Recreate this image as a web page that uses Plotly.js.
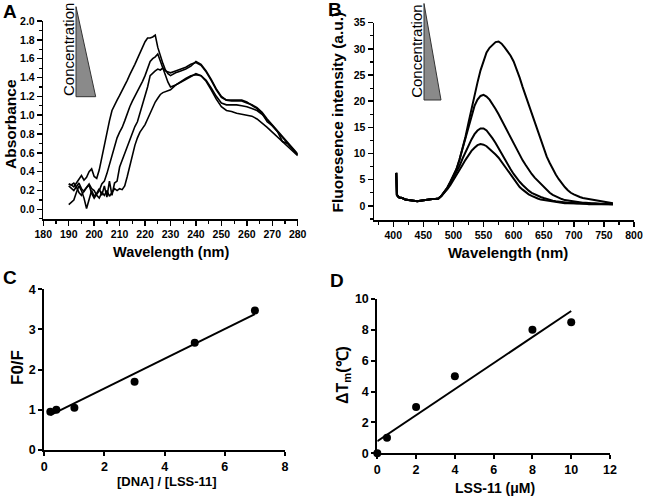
<!DOCTYPE html>
<html>
<head>
<meta charset="utf-8">
<script src="https://cdn.plot.ly/plotly-3.0.1.min.js"></script>
<style>html,body{margin:0;padding:0;background:#fff;}#chart{width:650px;height:496px;}</style>
</head>
<body>
<div id="chart"></div>
<script>
// ---------- Panel A: absorbance spectra ----------
const wavelengthA = [190,191,192,193,194,195,196,197,198,199,200,201,202,203,204,205,206,207,208,209,210,211,212,213,214,215,216,217,218,219,220,221,222,223,224,225,226,227,228,229,230,232,234,236,238,240,242,244,246,248,250,252,254,256,258,260,262,264,266,268,270,272,274,276,278,280];
const absorb1 = [0.27,0.26,0.24,0.28,0.33,0.36,0.31,0.34,0.40,0.43, 0.35,0.33,0.42,0.56,0.70,0.82,0.94,1.05,1.11,1.16, 1.21,1.26,1.32,1.37,1.43,1.48,1.54,1.60,1.66,1.72, 1.78,1.82,1.82,1.83,1.85,1.72,1.62,1.55,1.48,1.44, 1.42, 1.45,1.47,1.49,1.52,1.57, 1.54,1.47,1.38,1.28,1.20, 1.16,1.16,1.16,1.16,1.14,1.10,1.07,1.02,0.93,0.89,0.83,0.72,0.70,0.64,0.58];
const absorb2 = [0.25,0.22,0.20,0.24,0.28,0.22,0.19,0.23,0.26,0.17, 0.12,0.16,0.20,0.27,0.30,0.38,0.48,0.58,0.68,0.76, 0.82,0.87,0.94,1.02,1.09,1.15,1.20,1.25,1.30,1.36, 1.42,1.50,1.57,1.60,1.62,1.65,1.57,1.50,1.47,1.46, 1.45, 1.47,1.49,1.51,1.54,1.56, 1.53,1.46,1.37,1.27,1.19, 1.16,1.15,1.15,1.15,1.13,1.11,1.08,1.03,0.96,0.90,0.84,0.77,0.71,0.65,0.59];
const absorb3 = [0.05,0.08,0.10,0.18,0.25,0.20,0.12,0.01,0.10,0.20, 0.14,0.17,0.22,0.15,0.25,0.13,0.30,0.15,0.28,0.30, 0.45,0.52,0.60,0.68,0.74,0.82,0.88,0.93,1.02,1.12, 1.20,1.30,1.42,1.45,1.47,1.49,1.48,1.50,1.42,1.35, 1.30, 1.32,1.35,1.38,1.41,1.44, 1.42,1.36,1.27,1.17,1.09, 1.05,1.04,1.02,1.01,1.00,0.99,0.96,0.92,0.87,0.82,0.77,0.72,0.67,0.62,0.57];
const absorb4 = [0.27,0.26,0.28,0.24,0.18,0.15,0.20,0.24,0.27,0.22, 0.20,0.15,0.12,0.18,0.15,0.20,0.14,0.18,0.22,0.20, 0.22,0.21,0.25,0.35,0.47,0.58,0.68,0.76,0.82,0.86, 0.90,0.96,1.02,1.08,1.14,1.18,1.22,1.24,1.25,1.26, 1.27, 1.32,1.36,1.39,1.42,1.43, 1.42,1.37,1.29,1.20,1.13, 1.11,1.11,1.11,1.10,1.09,1.07,1.05,1.01,0.95,0.89,0.83,0.77,0.70,0.64,0.58];

// ---------- Panel B: fluorescence spectra ----------
const wavelengthB = [405,406,408,410,415,420,425,430,435,440,445,450,455,460,465,470,475,480,485,490,495,500,505,510,515,520,525,530,535,540,545,550,555,560,565,570,575,580,585,590,595,600,605,610,615,620,625,630,635,640,645,650,655,660,665,670,675,680,685,690,695,700,705,710,715,720,725,730,735,740,745,750,755,760,765];
const fluor1 = [6.3,2.1,1.8,1.6,1.5,1.2,1.1,1.0,1.0,0.9,1.0,1.1,1.2,1.3,1.3, 1.3,1.4,1.9,2.6,3.5,4.6,5.8,7.0,8.8,10.9, 13.2,15.9,18.6,21.2,23.6,25.9,27.8,29.3,30.2,30.8, 31.3,31.4,31.0,30.3,29.5,28.7,27.6,26.2,24.5,22.7, 21.0,19.3,17.6,15.8,14.1,12.4,10.9,9.4,8.2,7.0, 6.0,5.1,4.3,3.6,3.0,2.5,2.2,1.9,1.7,1.5, 1.4,1.2,1.1,1.0,0.9,0.8,0.7,0.7,0.6,0.5];
const fluor2 = [6.3,2.1,1.8,1.6,1.5,1.2,1.1,1.0,1.0,0.9,1.0,1.1,1.2,1.3,1.3, 1.3,1.4,1.9,2.6,3.5,4.6,5.8,7.0,8.8,10.9, 13.2,15.4,17.5,19.1,20.3,21.0,21.2,20.9,20.3,19.5, 18.5,17.5,16.4,15.2,14.0,12.9,11.8,10.7,9.7,8.7, 7.8,6.9,6.1,5.4,4.8,4.2,3.6,3.0,2.5,2.1, 1.8,1.5,1.3,1.1,1.0,0.9,0.8,0.7,0.7,0.6, 0.6,0.5,0.5,0.5,0.4,0.4,0.4,0.4,0.4,0.3];
const fluor3 = [6.3,2.1,1.8,1.6,1.5,1.2,1.1,1.0,1.0,0.9,1.0,1.1,1.2,1.3,1.3, 1.3,1.4,1.9,2.6,3.4,4.4,5.4,6.4,7.6,9.0, 10.3,11.6,12.7,13.7,14.4,14.8,14.8,14.4,13.7,12.9, 12.0,11.1,10.0,9.0,7.9,7.0,6.1,5.3,4.6,4.0, 3.4,2.9,2.5,2.2,1.9,1.7,1.5,1.3,1.1,1.0, 0.9,0.8,0.7,0.7,0.6,0.6,0.5,0.5,0.5,0.4, 0.4,0.4,0.4,0.3,0.3,0.3,0.3,0.3,0.3,0.3];
const fluor4 = [6.3,2.1,1.8,1.6,1.5,1.2,1.1,1.0,1.0,0.9,1.0,1.1,1.2,1.3,1.3, 1.3,1.4,1.9,2.5,3.2,4.0,4.9,5.8,6.8,7.8, 8.8,9.7,10.5,11.1,11.6,11.8,11.7,11.4,10.9,10.4, 9.8,9.2,8.4,7.5,6.6,5.8,5.0,4.3,3.6,3.1, 2.6,2.2,1.9,1.6,1.4,1.2,1.1,1.0,0.9,0.8, 0.7,0.6,0.6,0.5,0.5,0.5,0.4,0.4,0.4,0.4, 0.4,0.3,0.3,0.3,0.3,0.3,0.3,0.3,0.3,0.3];

// ---------- Panel C: F0/F vs [DNA]/[LSS-11] ----------
const ratioC = [0.2, 0.4, 1, 3, 5, 7];
const f0fC = [0.95, 1.0, 1.05, 1.7, 2.67, 3.47];
const fitXC = [0.2, 7];
const fitYC = [0.87, 3.38];

// ---------- Panel D: dTm vs LSS-11 ----------
const concD = [0, 0.5, 2, 4, 8, 10];
const dTmD = [0, 1.0, 3.0, 5.0, 8.0, 8.5];
const fitXD = [0, 10];
const fitYD = [0.78, 9.22];

// ---------- tick values / labels ----------
const ticksAx = [180,190,200,210,220,230,240,250,260,270,280];
const labelsAx = ['180','190','200','210','220','230','240','250','260','270','280'];
const ticksAy = [0,0.2,0.4,0.6,0.8,1.0,1.2,1.4,1.6,1.8,2.0];
const labelsAy = ['0.0','0.2','0.4','0.6','0.8','1.0','1.2','1.4','1.6','1.8','2.0'];
const ticksBx = [400,450,500,550,600,650,700,750,800];
const labelsBx = ['400','450','500','550','600','650','700','750','800'];
const ticksBy = [0,5,10,15,20,25,30,35];
const labelsBy = ['0','5','10','15','20','25','30','35'];
const ticksCx = [0,2,4,6,8];
const labelsCx = ['0','2','4','6','8'];
const ticksCy = [0,1,2,3,4];
const labelsCy = ['0','1','2','3','4'];
const ticksDx = [0,2,4,6,8,10,12];
const labelsDx = ['0','2','4','6','8','10','12'];
const ticksDy = [0,2,4,6,8,10];
const labelsDy = ['0','2','4','6','8','10'];

// ---------- helpers ----------
const W = 650, H = 496;
const px = v => v / W;
const py = v => 1 - v / H;
const FONT = 'Liberation Sans, Arial, sans-serif';
const lineA = {color: '#000', width: 1.6};
const lineB = {color: '#000', width: 2};
const bold = arr => arr.map(s => '<b>' + s + '</b>');

const traces = [
  {x: wavelengthA, y: absorb1, xaxis: 'x', yaxis: 'y', mode: 'lines', line: lineA},
  {x: wavelengthA, y: absorb2, xaxis: 'x', yaxis: 'y', mode: 'lines', line: lineA},
  {x: wavelengthA, y: absorb3, xaxis: 'x', yaxis: 'y', mode: 'lines', line: lineA},
  {x: wavelengthA, y: absorb4, xaxis: 'x', yaxis: 'y', mode: 'lines', line: lineA},
  {x: wavelengthB, y: fluor1, xaxis: 'x2', yaxis: 'y2', mode: 'lines', line: lineB},
  {x: wavelengthB, y: fluor2, xaxis: 'x2', yaxis: 'y2', mode: 'lines', line: lineB},
  {x: wavelengthB, y: fluor3, xaxis: 'x2', yaxis: 'y2', mode: 'lines', line: lineB},
  {x: wavelengthB, y: fluor4, xaxis: 'x2', yaxis: 'y2', mode: 'lines', line: lineB},
  {x: fitXC, y: fitYC, xaxis: 'x3', yaxis: 'y3', mode: 'lines', line: {color: '#000', width: 2}},
  {x: ratioC, y: f0fC, xaxis: 'x3', yaxis: 'y3', mode: 'markers', marker: {color: '#000', size: 8}, cliponaxis: false},
  {x: fitXD, y: fitYD, xaxis: 'x4', yaxis: 'y4', mode: 'lines', line: {color: '#000', width: 2}},
  {x: concD, y: dTmD, xaxis: 'x4', yaxis: 'y4', mode: 'markers', marker: {color: '#000', size: 8}, cliponaxis: false}
];

function ax(opts) {
  return Object.assign({
    showgrid: false, zeroline: false, showline: true, linecolor: '#000',
    ticks: 'outside', tickcolor: '#000', fixedrange: true, tickmode: 'array'
  }, opts);
}
const tickAB = {family: FONT, size: 10.5, color: '#000', weight: 'bold'};
const tickCD = {family: FONT, size: 12.5, color: '#000', weight: 'bold'};
const minorA = (d) => ({dtick: d, ticks: 'outside', ticklen: 3, tickwidth: 1.2, tickcolor: '#000'});

const layout = {
  width: W, height: H, autosize: false,
  margin: {l: 0, r: 0, t: 0, b: 0},
  paper_bgcolor: '#fff', plot_bgcolor: '#fff',
  showlegend: false,
  xaxis: ax({domain: [px(43.3), px(297.7)], range: [180, 280], tickvals: ticksAx, ticktext: bold(labelsAx), linewidth: 1.5, tickwidth: 1.5, ticklen: 5, tickfont: tickAB, anchor: 'y',
    minor: Object.assign(minorA(5), {tick0: 180})}),
  yaxis: ax({domain: [py(219.3), py(21)], range: [-0.105, 2.0], tickvals: ticksAy, ticktext: bold(labelsAy), linewidth: 1.5, tickwidth: 1.5, ticklen: 5, tickfont: tickAB, anchor: 'x',
    minor: Object.assign(minorA(0.1), {tick0: 0})}),
  xaxis2: ax({domain: [px(374), px(634)], range: [368, 800], tickvals: ticksBx, ticktext: bold(labelsBx), linewidth: 1.5, tickwidth: 1.5, ticklen: 5, tickfont: tickAB, anchor: 'y2',
    minor: Object.assign(minorA(25), {tick0: 400})}),
  yaxis2: ax({domain: [py(220), py(22.7)], range: [-2.7, 35], tickvals: ticksBy, ticktext: bold(labelsBy), linewidth: 1.5, tickwidth: 1.5, ticklen: 5, tickfont: tickAB, anchor: 'x2',
    minor: Object.assign(minorA(2.5), {tick0: 0})}),
  xaxis3: ax({domain: [px(44.3), px(285)], range: [0, 8], tickvals: ticksCx, ticktext: bold(labelsCx), linewidth: 2, tickwidth: 2, ticklen: 4, tickfont: tickCD, anchor: 'y3'}),
  yaxis3: ax({domain: [py(450), py(289.3)], range: [0, 4], tickvals: ticksCy, ticktext: bold(labelsCy), linewidth: 2, tickwidth: 2, ticklen: 4, tickfont: tickCD, anchor: 'x3'}),
  xaxis4: ax({domain: [px(377.3), px(610)], range: [0, 12], tickvals: ticksDx, ticktext: bold(labelsDx), linewidth: 2, tickwidth: 2, ticklen: 4, tickfont: tickCD, anchor: 'y4'}),
  yaxis4: ax({domain: [py(453.3), py(299)], range: [0, 10], tickvals: ticksDy, ticktext: bold(labelsDy), linewidth: 2, tickwidth: 2, ticklen: 4, tickfont: tickCD, anchor: 'x4'}),
  shapes: [
    {type: 'path', xref: 'paper', yref: 'paper',
     path: `M ${px(76)} ${py(6.7)} L ${px(76)} ${py(96.7)} L ${px(95.7)} ${py(96.7)} Z`,
     fillcolor: '#8a8a8a', line: {color: '#333', width: 1}},
    {type: 'path', xref: 'paper', yref: 'paper',
     path: `M ${px(424)} ${py(3.5)} L ${px(424)} ${py(100)} L ${px(441)} ${py(100)} Z`,
     fillcolor: '#8a8a8a', line: {color: '#333', width: 1}}
  ],
  annotations: []
};

function note(text, x, y, size, isBold, angle) {
  layout.annotations.push({
    text: text, xref: 'paper', yref: 'paper', x: px(x), y: py(y),
    xanchor: 'center', yanchor: 'middle', showarrow: false, textangle: angle || 0,
    font: {family: FONT, size: size, color: '#000', weight: isBold ? 'bold' : 'normal'}
  });
}
// panel letters
note('A', 9.5, 11.5, 19, true);
note('B', 334.7, 9.5, 19, true);
note('C', 10, 277.5, 19, true);
note('D', 336.7, 280, 19, true);
// axis titles
note('Absorbance', 10, 124, 15.5, true, -90);
note('Wavelength (nm)', 171, 252, 14.5, true);
note('Fluoresence intensity (a.u.)', 337, 112.5, 15.5, true, -90);
note('Wavelength (nm)', 508, 252, 15, true);
note('F0/F', 17, 368, 17, true, -90);
note('[DNA] / [LSS-11]', 166.5, 481, 13, true);
note('ΔT<sub>m</sub>(℃)', 343, 375, 16, true, -90);
note('LSS-11 (μM)', 495, 488, 14, true);
// concentration labels
note('Concentration', 68.5, 49.5, 15, false, -90);
note('Concentration', 416.3, 51.5, 15, false, -90);

Plotly.newPlot('chart', traces, layout, {displayModeBar: false, staticPlot: true});
</script>
</body>
</html>
